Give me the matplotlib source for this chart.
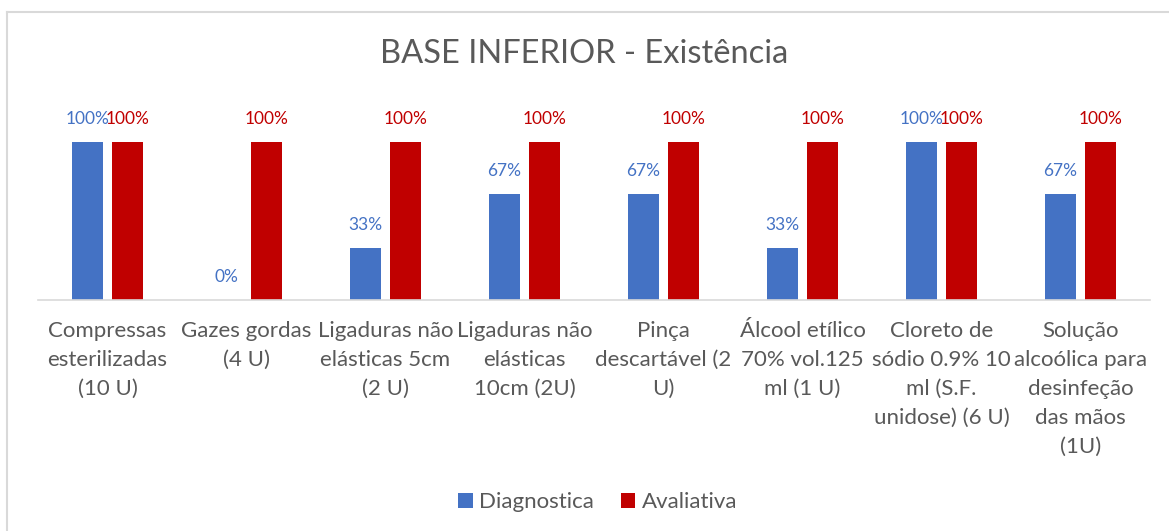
import matplotlib.pyplot as plt
from matplotlib.lines import Line2D
import numpy as np

plt.rcParams['font.family'] = ['Lato', 'DejaVu Sans']

categorias = [
    "Compressas\nesterilizadas\n(10 U)",
    "Gazes gordas\n(4 U)",
    "Ligaduras não\nelásticas 5cm\n(2 U)",
    "Ligaduras não\nelásticas\n10cm (2U)",
    "Pinça\ndescartável (2\nU)",
    "Álcool etílico\n70% vol.125\nml (1 U)",
    "Cloreto de\nsódio 0.9% 10\nml (S.F.\nunidose) (6 U)",
    "Solução\nalcoólica para\ndesinfeção\ndas mãos\n(1U)",
]
diagnostica = [1.00, 0.00, 0.33, 0.67, 0.67, 0.33, 1.00, 0.67]
avaliativa = [1.00, 1.00, 1.00, 1.00, 1.00, 1.00, 1.00, 1.00]

azul = "#4472C4"
vermelho = "#C00000"
cinza = "#595959"

W, H = 1169, 531
fig = plt.figure(figsize=(W / 100, H / 100), dpi=100)
ax = fig.add_axes([38 / W, 1 - 300 / H, 1112 / W, 200 / H])

x = np.arange(len(categorias))
larg = 0.22
off = 0.145
b1 = ax.bar(x - off, diagnostica, larg, color=azul, label="Diagnostica")
b2 = ax.bar(x + off, avaliativa, larg, color=vermelho, label="Avaliativa")

for barras, vals, cor in [(b1, diagnostica, azul), (b2, avaliativa, vermelho)]:
    for b, v in zip(barras, vals):
        ax.annotate(f"{v:.0%}", (b.get_x() + b.get_width() / 2, v),
                    xytext=(0, 11), textcoords="offset points",
                    ha="center", va="bottom", color=cor, fontsize=12.5)

ax.set_xlim(-0.5, len(categorias) - 0.5)
ax.set_ylim(0, 1.266)
ax.set_yticks([])
ax.set_xticks(x)
ax.set_xticklabels(categorias, fontsize=16, color=cinza, linespacing=1.56)
ax.tick_params(axis="x", length=0, pad=15)
for s in ["top", "right", "left"]:
    ax.spines[s].set_visible(False)
ax.spines["bottom"].set_color("#D9D9D9")
ax.spines["bottom"].set_linewidth(1.2)

fig.text(0.5, 1 - 54 / H, "BASE INFERIOR - Existência", ha="center", va="center",
         fontsize=23.5, color=cinza)

fig.legend(loc="center", bbox_to_anchor=(598 / W, 1 - 502 / H), ncol=2, frameon=False,
           fontsize=16, labelcolor=cinza, handlelength=0.65, handleheight=0.65,
           handletextpad=0.3, columnspacing=1.2)

# moldura da área do gráfico
fig.add_artist(Line2D([7 / W, 7 / W], [0, 1 - 12 / H], color="#D9D9D9", lw=1.5))
fig.add_artist(Line2D([7 / W, 1], [1 - 12 / H, 1 - 12 / H], color="#D9D9D9", lw=1.5))

fig.savefig("out.png", dpi=100)
